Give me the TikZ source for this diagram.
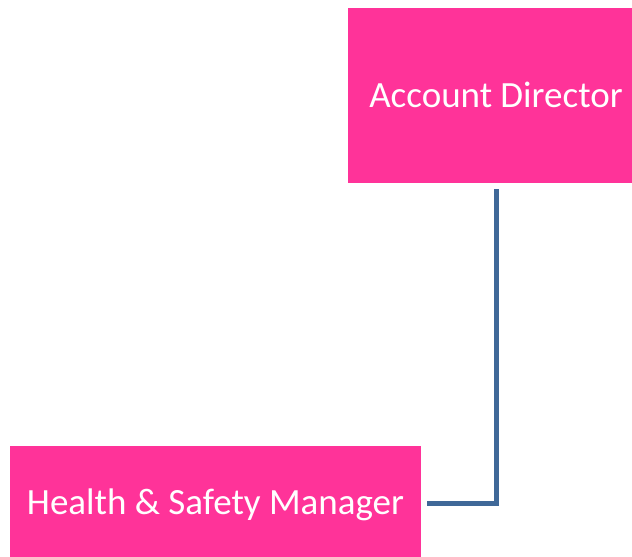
\documentclass[tikz,border=0pt]{standalone}
\usepackage{fontspec}
\setmainfont{Carlito}
\usetikzlibrary{positioning}
\definecolor{RolePink}{HTML}{FF3399}
\definecolor{LinkBlue}{HTML}{3F6898}
\tikzset{
  role/.style={fill=RolePink,text=white,inner sep=0pt,text height=23.8pt,text depth=0pt,font=\fontsize{37}{44}\selectfont},
  link/.style={line width=5pt,color=LinkBlue,shorten <=6pt,shorten >=6pt}
}
\begin{document}
\begin{tikzpicture}[x=1pt,y=-1pt]
  \useasboundingbox (0,0) rectangle (632,557);
  \node[role,minimum width=296pt,minimum height=175pt] (director) at (496,95.5) {Account Director};
  \node[role,minimum width=411pt,minimum height=114pt] (hsmanager) at (215.5,503) {Health \& Safety Manager};
  \draw[link] (director.south) |- (hsmanager.east);
\end{tikzpicture}
\end{document}
